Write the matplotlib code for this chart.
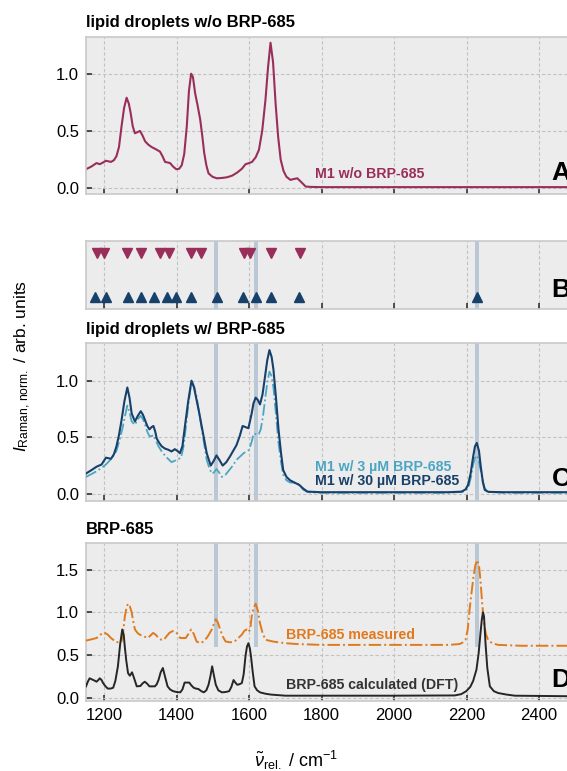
import matplotlib
matplotlib.use("Agg")
import matplotlib.pyplot as plt

plt.rcParams['font.family'] = ['Liberation Sans', 'DejaVu Sans']
plt.rcParams['mathtext.fontset'] = 'custom'
plt.rcParams['mathtext.rm'] = 'Liberation Sans'
plt.rcParams['mathtext.it'] = 'Liberation Sans:italic'
plt.rcParams['mathtext.bf'] = 'Liberation Sans:bold'

# ---------------- data ----------------
a_x = [1150,1165,1179,1188,1197,1205,1212,1219,1227,1234,1241,1248,1255,1262,1268,1273,1279,1285,1292,1299,1306,1313,1322,1331,1343,1354,1361,1368,1375,1382,1390,1399,1407,1414,1421,1428,1434,1440,1445,1451,1458,1465,1471,1476,1482,1488,1499,1511,1525,1539,1553,1567,1580,1590,1600,1608,1618,1627,1636,1645,1652,1659,1666,1673,1680,1687,1695,1703,1714,1722,1733,1745,1756,1770,1800,2000,2200,2400,2500]
a_y = [0.166,0.19,0.22,0.21,0.225,0.24,0.235,0.23,0.245,0.28,0.36,0.54,0.70,0.79,0.74,0.66,0.54,0.48,0.49,0.50,0.46,0.41,0.38,0.36,0.34,0.32,0.28,0.23,0.225,0.22,0.19,0.166,0.17,0.20,0.30,0.54,0.85,1.0,0.97,0.83,0.72,0.60,0.45,0.31,0.20,0.13,0.10,0.087,0.09,0.096,0.11,0.137,0.17,0.21,0.22,0.23,0.27,0.335,0.50,0.77,1.05,1.27,1.10,0.74,0.45,0.25,0.15,0.10,0.073,0.08,0.087,0.05,0.015,0.012,0.01,0.01,0.01,0.01,0.01]

c30_x = [1150,1165,1179,1193,1205,1219,1227,1234,1241,1248,1256,1264,1270,1276,1285,1293,1301,1307,1313,1319,1325,1331,1336,1341,1345,1352,1359,1368,1377,1386,1395,1402,1409,1416,1423,1432,1441,1448,1455,1462,1469,1476,1483,1494,1502,1510,1518,1527,1537,1547,1556,1565,1574,1582,1590,1598,1607,1612,1618,1624,1630,1637,1644,1650,1656,1662,1667,1674,1681,1688,1694,1703,1713,1725,1738,1750,1761,1800,2000,2150,2186,2197,2204,2211,2218,2223,2228,2234,2239,2245,2250,2260,2300,2500]
c30_y = [0.18,0.21,0.24,0.26,0.32,0.31,0.35,0.42,0.52,0.65,0.82,0.94,0.85,0.71,0.64,0.69,0.73,0.70,0.65,0.60,0.57,0.59,0.60,0.55,0.49,0.45,0.42,0.40,0.39,0.375,0.395,0.38,0.36,0.42,0.60,0.82,1.0,0.94,0.83,0.72,0.60,0.48,0.36,0.25,0.29,0.34,0.30,0.25,0.28,0.33,0.38,0.43,0.51,0.60,0.59,0.58,0.71,0.80,0.85,0.83,0.79,0.88,1.04,1.18,1.27,1.21,1.10,0.85,0.57,0.36,0.21,0.15,0.12,0.10,0.08,0.045,0.02,0.015,0.015,0.015,0.02,0.04,0.08,0.18,0.33,0.42,0.45,0.38,0.24,0.10,0.035,0.018,0.015,0.015]

c3_x = [1150,1165,1179,1193,1205,1220,1234,1242,1250,1257,1264,1270,1276,1285,1293,1301,1307,1313,1319,1325,1331,1336,1343,1350,1360,1370,1386,1400,1412,1418,1423,1432,1441,1448,1455,1462,1469,1476,1483,1490,1497,1503,1510,1517,1525,1535,1545,1555,1565,1575,1585,1600,1607,1612,1617,1622,1627,1632,1638,1645,1650,1656,1662,1667,1674,1681,1688,1694,1703,1713,1722,1731,1740,1750,1760,1770,1800,2000,2150,2195,2205,2212,2218,2223,2228,2233,2238,2244,2250,2258,2300,2500]
c3_y = [0.15,0.175,0.20,0.23,0.26,0.31,0.38,0.47,0.57,0.68,0.78,0.72,0.64,0.61,0.66,0.69,0.66,0.61,0.55,0.51,0.51,0.52,0.47,0.42,0.37,0.33,0.28,0.30,0.32,0.40,0.52,0.78,1.0,0.95,0.86,0.72,0.58,0.44,0.30,0.23,0.18,0.19,0.22,0.19,0.15,0.17,0.21,0.25,0.30,0.33,0.36,0.39,0.46,0.53,0.53,0.52,0.53,0.57,0.68,0.86,0.98,1.08,1.04,0.94,0.70,0.45,0.28,0.17,0.12,0.10,0.10,0.10,0.07,0.035,0.02,0.012,0.01,0.01,0.01,0.02,0.06,0.15,0.26,0.32,0.34,0.30,0.22,0.12,0.05,0.02,0.01,0.01]

meas_x = [1150,1165,1179,1190,1200,1210,1219,1234,1248,1252,1257,1262,1266,1271,1276,1280,1285,1292,1298,1304,1310,1320,1328,1335,1342,1350,1358,1365,1372,1380,1388,1395,1402,1410,1418,1425,1433,1440,1447,1455,1465,1475,1486,1497,1503,1508,1514,1520,1527,1535,1548,1560,1570,1580,1586,1592,1598,1603,1607,1612,1618,1624,1630,1637,1645,1655,1665,1680,1700,1731,1800,2000,2150,2181,2190,2197,2203,2208,2214,2219,2224,2229,2234,2238,2243,2248,2253,2259,2270,2287,2350,2500]
meas_y = [0.67,0.685,0.70,0.74,0.765,0.74,0.70,0.65,0.66,0.75,0.95,1.06,1.10,1.07,1.0,0.90,0.80,0.76,0.74,0.73,0.72,0.70,0.73,0.76,0.74,0.70,0.68,0.68,0.72,0.76,0.78,0.78,0.75,0.70,0.70,0.70,0.75,0.80,0.75,0.66,0.64,0.66,0.72,0.80,0.87,0.92,0.88,0.80,0.72,0.66,0.65,0.66,0.70,0.74,0.78,0.80,0.77,0.80,0.95,1.05,1.10,1.02,0.87,0.76,0.68,0.67,0.66,0.65,0.64,0.63,0.62,0.62,0.62,0.63,0.65,0.68,0.80,1.03,1.25,1.42,1.55,1.61,1.55,1.38,1.10,0.87,0.75,0.68,0.64,0.62,0.61,0.61]

dft_x = [1150,1155,1160,1165,1170,1175,1179,1184,1188,1193,1197,1203,1210,1218,1225,1231,1238,1244,1250,1254,1257,1261,1266,1271,1277,1282,1290,1300,1306,1312,1318,1325,1340,1345,1350,1356,1362,1368,1375,1382,1390,1400,1410,1416,1422,1428,1435,1440,1447,1453,1460,1468,1475,1482,1488,1493,1498,1503,1508,1515,1525,1535,1545,1551,1557,1562,1567,1573,1580,1585,1590,1594,1598,1602,1605,1610,1615,1622,1630,1645,1660,1700,2000,2167,2185,2199,2210,2218,2227,2233,2238,2242,2245,2248,2252,2257,2264,2275,2287,2310,2333,2500]
dft_y = [0.136,0.19,0.23,0.22,0.21,0.20,0.19,0.21,0.23,0.21,0.175,0.14,0.11,0.11,0.12,0.20,0.37,0.62,0.80,0.74,0.60,0.44,0.29,0.26,0.30,0.24,0.136,0.14,0.17,0.19,0.17,0.136,0.136,0.16,0.21,0.30,0.35,0.25,0.136,0.10,0.08,0.07,0.066,0.10,0.18,0.18,0.18,0.15,0.12,0.11,0.105,0.08,0.066,0.09,0.155,0.25,0.37,0.26,0.155,0.09,0.066,0.07,0.08,0.13,0.21,0.18,0.155,0.16,0.175,0.28,0.49,0.60,0.64,0.58,0.49,0.30,0.136,0.09,0.066,0.05,0.04,0.027,0.027,0.03,0.045,0.08,0.13,0.20,0.33,0.52,0.75,0.92,1.0,0.95,0.64,0.35,0.136,0.08,0.058,0.04,0.027,0.02]

peaks_lipid = [1180,1201,1262,1302,1355,1378,1439,1468,1585,1602,1660,1739]
peaks_cell = [1175,1204,1266,1302,1338,1373,1399,1441,1512,1584,1618,1660,1738,2228]
bands = [1508, 1619, 2228]
band_halfwidth = 5

xticks = [1200, 1400, 1600, 1800, 2000, 2200, 2400]

# ---------------- style ----------------
c_maroon = '#9a2e5b'
c_navy = '#17406b'
c_teal = '#4ba6c3'
c_orange = '#e07a1c'
c_black = '#262626'
c_band = '#bac7d5'
face = '#ececec'

fig = plt.figure(figsize=(5.67, 7.71), dpi=100)
L = 86/567
W = (575.4-86)/567
def rect(top, bot):
    return [L, 1-bot/771, W, (bot-top)/771]

axA = fig.add_axes(rect(37, 194))
axB = fig.add_axes(rect(240.5, 308.5))
axC = fig.add_axes(rect(343.3, 500.7))
axD = fig.add_axes(rect(543.3, 701))

for ax in (axA, axB, axC, axD):
    ax.set_facecolor(face)
    ax.set_xlim(1150, 2500)
    ax.set_xticks(xticks)
    ax.grid(True, color='#c2c2c2', linestyle=(0, (3, 2)), linewidth=0.8)
    ax.set_axisbelow(True)
    for s in ax.spines.values():
        s.set_color('#c9c9c9')
        s.set_linewidth(1.2)
    ax.tick_params(direction='in', length=4.5, width=1.1, color='#222222',
                   labelsize=12, pad=5)
    if ax is not axD:
        ax.tick_params(labelbottom=False)

# Panel A
axA.plot(a_x, a_y, color=c_maroon, lw=1.5)
axA.set_ylim(-0.05, 1.32)
axA.set_yticks([0.0, 0.5, 1.0])
axA.set_title('lipid droplets w/o BRP-685', loc='left', fontsize=12,
              fontweight='bold', pad=7)
axA.text(1782, 0.125, 'M1 w/o BRP-685', color=c_maroon, fontsize=10.2,
         fontweight='bold', va='center', ha='left')

# Panel B
axB.set_ylim(0, 1)
axB.set_yticks([])
axB.tick_params(left=False)
for b in bands:
    axB.axvspan(b-band_halfwidth, b+band_halfwidth, color=c_band, lw=0, zorder=1)
axB.plot(peaks_lipid, [0.81]*len(peaks_lipid), linestyle='none', marker='v',
         color=c_maroon, ms=6.5, zorder=3)
axB.plot(peaks_cell, [0.17]*len(peaks_cell), linestyle='none', marker='^',
         color=c_navy, ms=6.5, zorder=3)

# Panel C
for b in bands:
    axC.axvspan(b-band_halfwidth, b+band_halfwidth, color=c_band, lw=0, zorder=1)
axC.plot(c3_x, c3_y, color=c_teal, lw=1.3, linestyle='-.', zorder=3)
axC.plot(c30_x, c30_y, color=c_navy, lw=1.5, zorder=4)
axC.set_ylim(-0.06, 1.33)
axC.set_yticks([0.0, 0.5, 1.0])
axC.set_title('lipid droplets w/ BRP-685', loc='left', fontsize=12,
              fontweight='bold', pad=7)
axC.text(1782, 0.24, 'M1 w/ 3 µM BRP-685', color=c_teal, fontsize=10.2,
         fontweight='bold', va='center', ha='left')
axC.text(1782, 0.115, 'M1 w/ 30 µM BRP-685', color=c_navy, fontsize=10.2,
         fontweight='bold', va='center', ha='left')

# Panel D
ylD = (-0.035, 1.806)
axD.set_ylim(*ylD)
bandfrac = (0.6 - ylD[0]) / (ylD[1] - ylD[0])
for b in bands:
    axD.axvspan(b-band_halfwidth, b+band_halfwidth, ymin=bandfrac, ymax=1,
                color=c_band, lw=0, zorder=1)
axD.plot(meas_x, meas_y, color=c_orange, lw=1.4, linestyle='-.', zorder=3)
axD.plot(dft_x, dft_y, color=c_black, lw=1.4, zorder=4)
axD.set_yticks([0.0, 0.5, 1.0, 1.5])
axD.set_title('BRP-685', loc='left', fontsize=12, fontweight='bold', pad=7)
axD.text(1703, 0.74, 'BRP-685 measured', color=c_orange, fontsize=10.2,
         fontweight='bold', va='center', ha='left')
axD.text(1703, 0.15, 'BRP-685 calculated (DFT)', color='#333333', fontsize=10.2,
         fontweight='bold', va='center', ha='left')

for ax, lab in zip((axA, axB, axC, axD), 'ABCD'):
    ax.text(0.951, 0.06 if ax is not axB else 0.1, lab, transform=ax.transAxes,
            fontsize=19, fontweight='bold', ha='left', va='bottom', zorder=5)

fig.text(296/567, 1-760/771, r'$\tilde{\nu}_{\mathrm{rel.}}$ / cm$^{-1}$',
         ha='center', va='center', fontsize=13)
fig.text(23/567, 1-366/771, r'$I_{\mathrm{Raman,\,norm.}}$ / arb. units',
         ha='center', va='center', rotation=90, fontsize=12.5)

fig.savefig('out.png', dpi=100)
